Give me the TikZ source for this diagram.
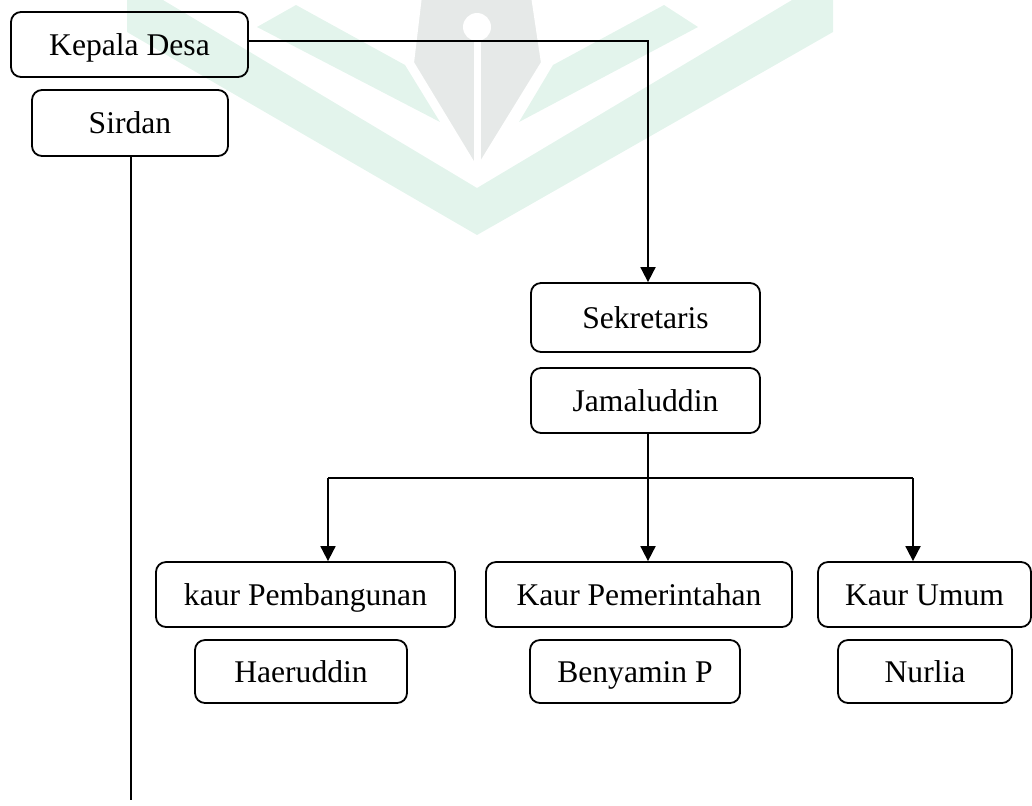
\documentclass[tikz,border=0pt]{standalone}
\usepackage{fontspec}
\setmainfont{Liberation Serif}
\usetikzlibrary{arrows.meta}
\definecolor{wmgreen}{RGB}{227,244,236}
\definecolor{wmgray}{RGB}{230,233,232}
\begin{document}
\begin{tikzpicture}[x=0.5pt,y=-0.5pt,
  box/.style={draw, line width=0.9pt, rounded corners=5pt, inner sep=0pt,
    text height=10.5pt, text depth=0pt,
    font=\fontsize{15.8}{19}\selectfont, align=center},
  conn/.style={line width=0.9pt},
  arr/.style={conn, -{Triangle[length=7.5pt,width=7.5pt]}}]
\useasboundingbox (0,0) rectangle (1032,805);
% watermark
\fill[wmgreen] (127,0) -- (127,32) -- (477,235) -- (833,32) -- (833,0) -- (792,0) -- (477,188) -- (163,0) -- cycle;
\fill[wmgreen] (296,5) -- (405,65) -- (440,122) -- (257,27) -- cycle;
\fill[wmgreen] (664,5) -- (553,65) -- (519,122) -- (698,27) -- cycle;
\filldraw[fill=wmgray, draw=white, line width=3pt, line join=miter] (419,-4) -- (534,-4) -- (544,63) -- (477,172) -- (411,63) -- cycle;
\draw[white, line width=3.5pt] (477,27) -- (477,172);
\fill[white] (477,27) ellipse [x radius=14, y radius=14];
% boxes
\node[box, minimum width=118.5pt, minimum height=32.5pt] (kepala) at (129.5,44.5) {Kepala Desa};
\node[box, minimum width=98pt, minimum height=33pt] (sirdan) at (130,123) {Sirdan};
\node[box, minimum width=114.5pt, minimum height=34.5pt] (sek) at (645.5,317.5) {Sekretaris};
\node[box, minimum width=114.5pt, minimum height=32.5pt] (jam) at (645.5,400.5) {Jamaluddin};
\node[box, minimum width=149.5pt, minimum height=32.5pt] (kpb) at (305.5,594.5) {kaur Pembangunan};
\node[box, minimum width=106pt, minimum height=31.5pt] (hae) at (301,671.5) {Haeruddin};
\node[box, minimum width=153pt, minimum height=32.5pt] (kpm) at (639,594.5) {Kaur Pemerintahan};
\node[box, minimum width=105pt, minimum height=31.5pt] (ben) at (635,671.5) {Benyamin P};
\node[box, minimum width=106.5pt, minimum height=32.5pt] (kum) at (924.5,594.5) {Kaur Umum};
\node[box, minimum width=87pt, minimum height=31.5pt] (nur) at (925,671.5) {Nurlia};
% connectors
\coordinate (c1) at (648,41);
\draw[arr] (kepala.east |- c1) -- (c1) -- (c1 |- sek.north);
\coordinate (bj) at (648,478);
\coordinate (bl) at (328,478);
\coordinate (br) at (913,478);
\draw[conn] (bj |- jam.south) -- (bj);
\draw[conn] (bl) -- (br);
\draw[arr] (bj) -- (bj |- kpm.north);
\draw[arr] (bl) -- (bl |- kpb.north);
\draw[arr] (br) -- (br |- kum.north);
\coordinate (send) at (131,800);
\draw[conn] (send |- sirdan.south) -- (send);
\end{tikzpicture}
\end{document}
